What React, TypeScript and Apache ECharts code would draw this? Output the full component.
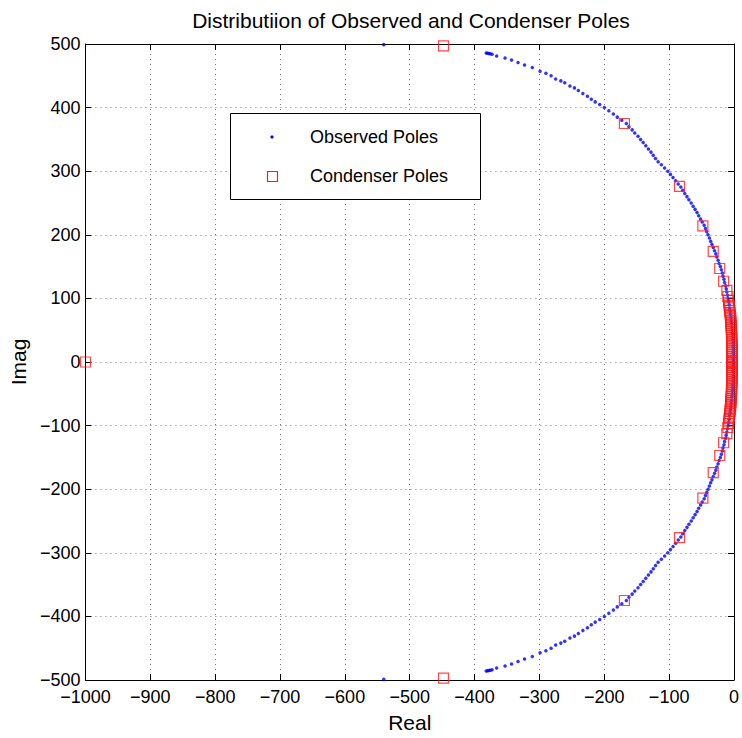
import React, { useEffect, useRef } from "react";
import * as echarts from "echarts";

const FONT = "'Liberation Sans', Arial, Helvetica, sans-serif";

const titleText = "Distributiion of Observed and Condenser Poles";
const xName = "Real";
const yName = "Imag";
const seriesNames = ["Observed Poles", "Condenser Poles"];

// Observed poles (upper half-plane; conjugates mirror them)
const obsReal = [
  -382, -380, -378, -376, -373, -366, -353, -343, -333, -323, -311, -299, -290, -282, -275, -267, -261, -253, -246, -240,
  -233, -226, -220, -214, -207, -200, -193, -186, -180, -173, -166, -162, -157, -153, -148, -144, -140, -136, -132, -128,
  -124.5, -121, -117, -112, -107, -102, -98, -94, -90, -86, -82, -79, -76, -72.5, -69.5, -66, -63, -60, -57, -54.5,
  -51.5, -49, -46, -44, -42, -40, -38, -36, -34, -32, -30, -28, -26.5, -24.5, -23, -21, -19.5, -18, -17, -15.5,
  -14.5, -13, -12, -11, -10, -9, -8.3, -7.5, -6.8, -6, -5.4, -4.8, -4.2, -3.7, -3.2, -2.8, -2.4, -2, -1.8, -1.6,
  -1.4, -1.2, -1.1, -1.05, -1, -1, -540,
];
const obsImag = [
  486, 485.6, 485.2, 484.7, 484, 481, 478, 475, 471, 467, 463, 457, 454, 450, 445, 442, 439, 434, 431, 427,
  422, 418, 413, 409, 405, 400, 395, 390, 385, 380, 375, 370, 365, 360, 355, 350, 345, 340, 335, 330,
  325, 320, 315, 310, 305, 300, 295, 290, 285, 280, 275, 270, 265, 260, 255, 250, 245, 240, 235, 230,
  225, 220, 215, 210, 205, 200, 195, 190, 185, 180, 175, 170, 165, 160, 155, 150, 145, 140, 135, 130,
  125, 120, 115, 110, 105, 100, 95, 90, 85, 80, 75, 70, 65, 60, 55, 50, 45, 40, 35, 30,
  25, 20, 15, 10, 5, 1, 499,
];

// Condenser poles (upper half-plane; conjugates mirror them)
const condReal = [
  -448, -169, -84, -48, -32, -22, -16, -11, -9.5, -8.5, -8, -7.5, -7, -6.5, -6.2, -5.8, -5.5, -5.2, -5, -4.8,
  -4.6, -4.4, -4.2, -4, -3.9, -3.8, -3.7, -3.6, -3.5, -3.4, -3.3, -3.2, -3.1, -3, -3, -3, -3, -3, -3, -3, -3,
];
const condImag = [
  497, 375, 276, 214, 174, 147, 127, 112.5, 103, 97, 93, 89, 85, 81, 78, 75, 72, 69, 66, 63,
  60, 57, 54, 51, 48, 45, 42, 39, 36, 33, 30, 27, 24, 21, 18, 15, 12, 9, 6, 3, 1,
];
const condRealAxis = [-1000];

const xTicks = { min: -1000, max: 0, interval: 100 };
const yTicks = { min: -500, max: 500, interval: 100 };

function withConjugates(re: number[], im: number[]): number[][] {
  const out: number[][] = [];
  re.forEach((r, i) => out.push([r, im[i]]));
  re.forEach((r, i) => out.push([r, -im[i]]));
  return out;
}

const minus = (v: number) => String(v).replace("-", "\u2212");

export default function App() {
  const ref = useRef<HTMLDivElement>(null);
  useEffect(() => {
    if (!ref.current) return;
    const chart = echarts.init(ref.current, null, { renderer: "svg" });
    const obsData = withConjugates(obsReal, obsImag);
    const condData = withConjugates(condReal, condImag).concat(condRealAxis.map((r) => [r, 0]));

    const axisCommon = {
      type: "value" as const,
      axisLine: { show: true, onZero: false, lineStyle: { color: "#000", width: 1 } },
      axisTick: { show: true, inside: true, length: 6, lineStyle: { color: "#000", width: 1 } },
    };
    const labelStyle = { color: "#000", fontSize: 18, fontFamily: FONT };
    const gridLine = { show: true, lineStyle: { color: "#777", width: 1, type: [1, 4] as any } };

    chart.setOption({
      animation: false,
      backgroundColor: "#fff",
      grid: { left: 80, right: 1, top: 44, bottom: 55, containLabel: false },
      xAxis: [
        {
          ...axisCommon,
          position: "bottom",
          ...xTicks,
          splitLine: gridLine,
          axisLabel: { ...labelStyle, margin: 8, formatter: minus },
          name: xName,
          nameLocation: "middle",
          nameGap: 32,
          nameTextStyle: { color: "#000", fontSize: 21, fontFamily: FONT },
        },
        {
          ...axisCommon,
          position: "top",
          ...xTicks,
          splitLine: { show: false },
          axisLabel: { show: false },
        },
      ],
      yAxis: [
        {
          ...axisCommon,
          position: "left",
          ...yTicks,
          splitLine: gridLine,
          axisLabel: { ...labelStyle, margin: 5, formatter: minus },
          name: yName,
          nameLocation: "middle",
          nameGap: 40,
          nameTextStyle: { color: "#000", fontSize: 21, fontFamily: FONT },
        },
        {
          ...axisCommon,
          position: "right",
          ...yTicks,
          splitLine: { show: false },
          axisLabel: { show: false },
        },
      ],
      series: [
        {
          name: seriesNames[0],
          type: "scatter",
          symbol: "circle",
          symbolSize: 3.5,
          clip: false,
          itemStyle: { color: "#0000ff" },
          data: obsData,
          z: 3,
        },
        {
          name: seriesNames[1],
          type: "scatter",
          symbol: "rect",
          symbolSize: 10,
          clip: false,
          itemStyle: { color: "rgba(0,0,0,0)", borderColor: "#ff1a1a", borderWidth: 1.2 },
          data: condData,
          z: 4,
        },
      ],
      graphic: [
        {
          type: "text",
          x: 411,
          y: 20,
          z: 100,
          style: { text: titleText, fill: "#000", font: `21px ${FONT}`, textAlign: "center", textVerticalAlign: "middle" },
        },
        {
          type: "rect",
          z: 100,
          shape: { x: 230.5, y: 113.5, width: 250, height: 86 },
          style: { fill: "#fff", stroke: "#000", lineWidth: 1 },
        },
        {
          type: "circle",
          z: 101,
          shape: { cx: 272, cy: 137, r: 1.6 },
          style: { fill: "#0000ff" },
        },
        {
          type: "rect",
          z: 101,
          shape: { x: 267.5, y: 171.5, width: 10, height: 10 },
          style: { fill: "none", stroke: "#ff1a1a", lineWidth: 1.2 },
        },
        {
          type: "text",
          z: 101,
          x: 310,
          y: 137,
          style: { text: seriesNames[0], fill: "#000", font: `18px ${FONT}`, textVerticalAlign: "middle" },
        },
        {
          type: "text",
          z: 101,
          x: 310,
          y: 176,
          style: { text: seriesNames[1], fill: "#000", font: `18px ${FONT}`, textVerticalAlign: "middle" },
        },
      ],
    });
    return () => chart.dispose();
  }, []);
  return <div ref={ref} style={{ position: "absolute", left: 0, top: 0, width: 742, height: 738 }} />;
}
